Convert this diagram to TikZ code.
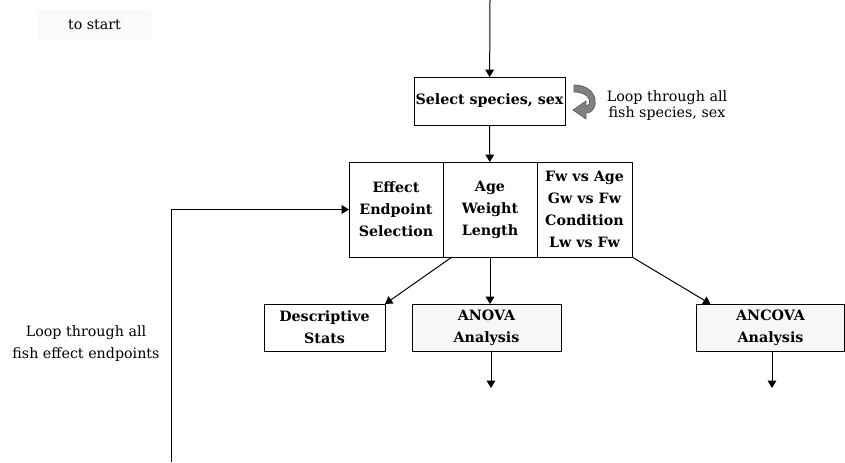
\documentclass[tikz,border=0pt]{standalone}
\usepackage{fontspec}
\setmainfont{DejaVu Serif}
\usetikzlibrary{arrows.meta,positioning}

\begin{document}
\begin{tikzpicture}[x=0.75pt,y=-0.75pt,
    >={Triangle[length=5.5pt,width=6.5pt]},
    line width=0.75pt,
    font=\fontsize{10.7}{12}\selectfont,
    box/.style={draw,fill=white,align=center,inner sep=0pt,outer sep=0pt,
      font=\fontsize{10.7}{16.5}\selectfont\bfseries,minimum height=35.25pt},
    cell/.style={box,minimum width=70.5pt,minimum height=71.25pt},
    shaded/.style={fill=black!3}]
  \useasboundingbox (0,0) rectangle (845,462);

  \node[fill=black!2,minimum width=84.75pt,minimum height=21.75pt] (tostart) at (94.5,24.5) {to start};

  \node[box,minimum width=113.25pt,minimum height=36pt] (select) at (489.5,101) {Select species, sex};
  \node[align=center] (looptext) at (667,106) {Loop through all\\fish species, sex};

  \node[cell] (endpoint) at (396,209.5) {Effect\\Endpoint\\Selection};
  \node[cell,right=0pt of endpoint] (measure) {Age\\Weight\\Length};
  \node[cell,right=0pt of measure,minimum width=71.25pt] (relation) {Fw vs Age\\Gw vs Fw\\Condition\\Lw vs Fw};

  \node[box,minimum width=90.75pt] (descr) at (324.5,327.5) {Descriptive\\Stats};
  \node[box,shaded,minimum width=111.75pt] (anova) at (486.5,327.5) {ANOVA\\Analysis};
  \node[box,shaded,minimum width=111pt] (ancova) at (770.5,327.5) {ANCOVA\\Analysis};

  \node[align=center,font=\fontsize{10.7}{16.5}\selectfont] (looptext2) at (86,344) {Loop through all\\fish effect endpoints};

  % curved loop arrow
  \filldraw[fill=black!50,draw=black!65,line width=0.5pt]
    (574,85) .. controls (600,85) and (600,113) .. (586,113) -- (586,119) -- (573,110)
    -- (586,101) -- (586,106) .. controls (592,106) and (592,92) .. (574,92) -- cycle;

  \coordinate (top) at (490,0);
  \coordinate (loopstart) at (171,462);
  \coordinate (anovaend) at (491,388);
  \coordinate (ancovaend) at (772,388);

  \draw[->] (top) -- (select);
  \draw[->] (select) -- (measure);
  \draw[->] (loopstart) |- (endpoint.west);
  \draw[->] ([xshift=6.75pt]measure.south west) -- (descr.north east);
  \draw[->] (measure.south) -- (measure.south |- anova.north);
  \draw[->] (relation.south east) -- ([xshift=10.5pt]ancova.north west);
  \draw[->] (anovaend |- anova.south) -- (anovaend);
  \draw[->] (ancovaend |- ancova.south) -- (ancovaend);
\end{tikzpicture}
\end{document}
